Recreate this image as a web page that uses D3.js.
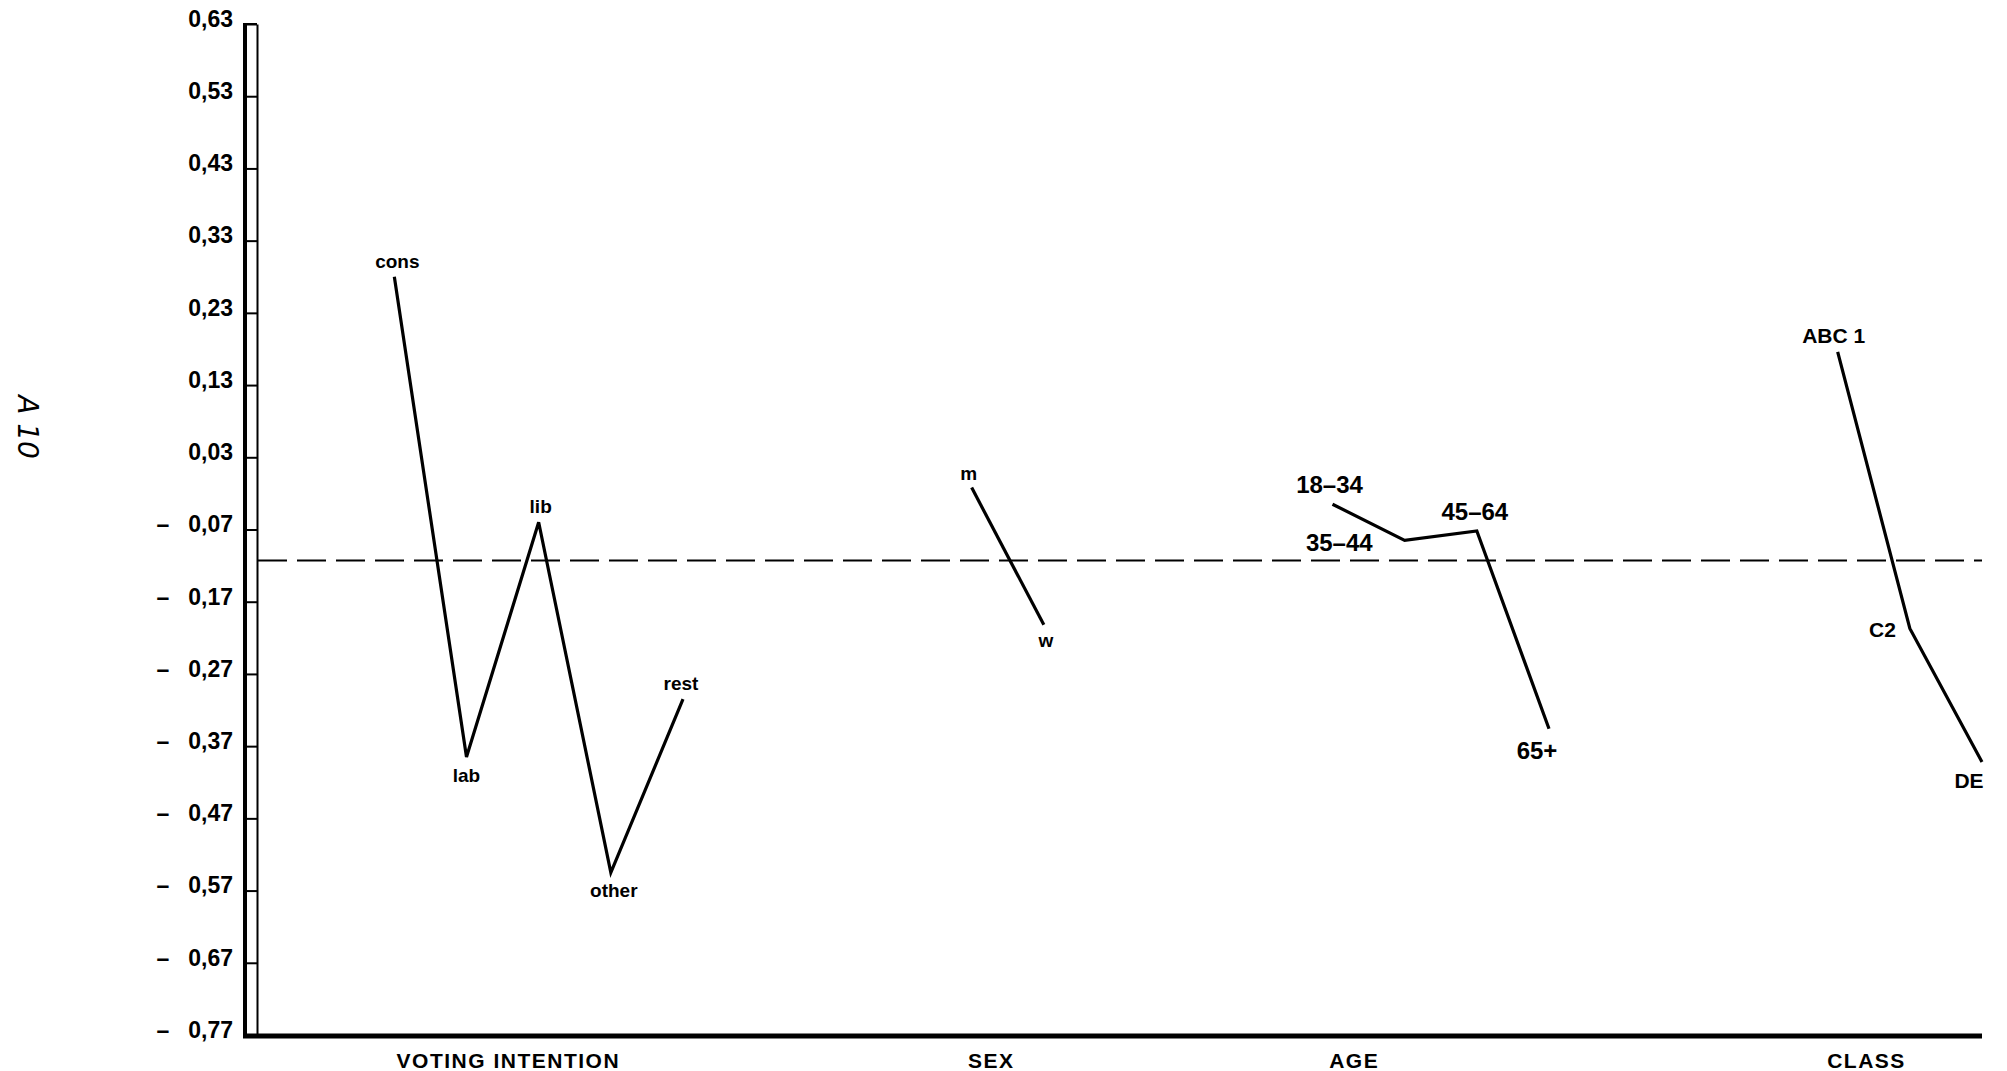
<!DOCTYPE html>
<html>
<head>
<meta charset="utf-8">
<script src="https://cdn.jsdelivr.net/npm/d3@7"></script>
<style>
  html, body { margin: 0; padding: 0; background: #fff; }
  svg { display: block; }
</style>
</head>
<body>
<svg id="chart" width="2007" height="1071"></svg>
<script>
// ---------- data ----------
const groupNames   = ["VOTING INTENTION", "SEX", "AGE", "CLASS"];
const votingLabels = ["cons", "lab", "lib", "other", "rest"];
const votingValues = [0.28, -0.385, -0.06, -0.545, -0.305];
const sexLabels    = ["m", "w"];
const sexValues    = [-0.012, -0.202];
const ageLabels    = ["18–34", "35–44", "45–64", "65+"];
const ageValues    = [-0.035, -0.085, -0.072, -0.346];
const classLabels  = ["ABC 1", "C2", "DE"];
const classValues  = [0.176, -0.207, -0.392];
const referenceValue = -0.113;
const yTickValues  = [0.63, 0.53, 0.43, 0.33, 0.23, 0.13, 0.03, -0.07, -0.17, -0.27, -0.37, -0.47, -0.57, -0.67, -0.77];
const yTickLabels  = ["0,63", "0,53", "0,43", "0,33", "0,23", "0,13", "0,03", "0,07", "0,17", "0,27", "0,37", "0,47", "0,57", "0,67", "0,77"];

// ---------- layout ----------
const svg = d3.select("#chart");
const GAP = 3; // empty slots between groups
const groups = [
  { name: groupNames[0], labels: votingLabels, values: votingValues },
  { name: groupNames[1], labels: sexLabels,    values: sexValues },
  { name: groupNames[2], labels: ageLabels,    values: ageValues },
  { name: groupNames[3], labels: classLabels,  values: classValues }
];
let slot = 0;
groups.forEach(g => {
  g.points = g.labels.map((l, i) => ({ label: l, value: g.values[i], slot: slot + i }));
  g.start = slot;
  slot += g.labels.length + GAP;
});
const lastSlot = slot - GAP - 1;

const x = d3.scaleLinear().domain([-2, lastSlot]).range([250, 1982]);
const y = d3.scaleLinear().domain([-0.77, 0.63]).range([1035, 24]);

// label placement (style / layout only)
const place = {
  "cons":  { dx: 3,   dy: -9,  a: "middle" },
  "lab":   { dx: 0,   dy: 25,  a: "middle" },
  "lib":   { dx: 2,   dy: -9,  a: "middle" },
  "other": { dx: 3,   dy: 24,  a: "middle" },
  "rest":  { dx: -2,  dy: -9,  a: "middle" },
  "m":     { dx: -3,  dy: -8,  a: "middle" },
  "w":     { dx: 2,   dy: 22,  a: "middle" },
  "18–34": { dx: -3,  dy: -11, a: "middle" },
  "35–44": { dx: -32, dy: 11,  a: "end" },
  "45–64": { dx: -2,  dy: -11, a: "middle" },
  "65+":   { dx: -12, dy: 30,  a: "middle" },
  "ABC 1": { dx: -4,  dy: -9,  a: "middle" },
  "C2":    { dx: -14, dy: 9,   a: "end" },
  "DE":    { dx: -13, dy: 26,  a: "middle" }
};
const groupLabelSlot = [1.58, 8.27, 13.3, 20.4];

// ---------- y axis (double rail with dividers) ----------
const rail = svg.append("g").attr("transform", "translate(257,0)")
  .call(d3.axisLeft(y).tickValues(yTickValues).tickSize(14).tickSizeOuter(0).tickFormat(""));
rail.select(".domain").attr("stroke", "#000").attr("stroke-width", 2);
rail.selectAll(".tick line").attr("stroke", "#000").attr("stroke-width", 2);

svg.append("line")
  .attr("x1", 245).attr("x2", 245)
  .attr("y1", y(0.63) - 1).attr("y2", y(-0.77) + 3)
  .attr("stroke", "#000").attr("stroke-width", 4);
svg.append("line")
  .attr("x1", 243).attr("x2", 257)
  .attr("y1", y(0.63)).attr("y2", y(0.63))
  .attr("stroke", "#000").attr("stroke-width", 2);

const labAxis = svg.append("g").attr("transform", "translate(233,0)")
  .call(d3.axisLeft(y).tickValues(yTickValues).tickSize(0).tickPadding(0)
    .tickFormat((d, i) => yTickLabels[i]));
labAxis.select(".domain").remove();
labAxis.selectAll(".tick text")
  .attr("font-family", "Liberation Sans, Arial, sans-serif")
  .attr("font-weight", "bold").attr("font-size", 23)
  .attr("fill", "#000").attr("dy", "0.1em").attr("text-anchor", "end");
labAxis.selectAll(".tick").filter(d => d < 0)
  .append("text")
  .attr("x", -70).attr("dy", "0.1em")
  .attr("text-anchor", "middle")
  .attr("font-family", "Liberation Sans, Arial, sans-serif")
  .attr("font-weight", "bold").attr("font-size", 23).attr("fill", "#000")
  .text("–");

// ---------- x axis ----------
svg.append("line")
  .attr("x1", 243).attr("x2", x(lastSlot))
  .attr("y1", 1036).attr("y2", 1036)
  .attr("stroke", "#000").attr("stroke-width", 5);

svg.selectAll("text.group")
  .data(groups)
  .join("text")
  .attr("class", "group")
  .attr("x", (d, i) => x(groupLabelSlot[i]))
  .attr("y", 1068)
  .attr("text-anchor", "middle")
  .attr("font-family", "Liberation Sans, Arial, sans-serif")
  .attr("font-weight", "bold").attr("font-size", 21)
  .attr("letter-spacing", 1.5)
  .attr("fill", "#000")
  .text(d => d.name);

// ---------- reference dashed line ----------
svg.append("line")
  .attr("x1", 258).attr("x2", x(lastSlot))
  .attr("y1", y(referenceValue)).attr("y2", y(referenceValue))
  .attr("stroke", "#000").attr("stroke-width", 2)
  .attr("stroke-dasharray", "29,10");

// ---------- series lines ----------
const line = d3.line().x(d => x(d.slot)).y(d => y(d.value));
svg.selectAll("path.series")
  .data(groups)
  .join("path")
  .attr("class", "series")
  .attr("d", d => line(d.points))
  .attr("fill", "none")
  .attr("stroke", "#000")
  .attr("stroke-width", 3.2)
  .attr("stroke-linejoin", "miter");

// ---------- point labels ----------
const allPoints = groups.flatMap((g, gi) => g.points.map(p => ({ ...p, gi })));
svg.selectAll("text.pt")
  .data(allPoints)
  .join("text")
  .attr("class", "pt")
  .attr("x", d => x(d.slot) + place[d.label].dx)
  .attr("y", d => y(d.value) + place[d.label].dy)
  .attr("text-anchor", d => place[d.label].a)
  .attr("font-family", d => d.gi === 2 ? "Liberation Sans Narrow, Liberation Sans, sans-serif" : "Liberation Sans, Arial, sans-serif")
  .attr("font-weight", "bold")
  .attr("font-size", d => d.gi < 2 ? 19 : (d.gi === 2 ? 24 : 21))
  .attr("fill", "#000")
  .text(d => d.label);

// ---------- margin note ----------
svg.append("text")
  .attr("transform", "translate(18,427) rotate(90)")
  .attr("text-anchor", "middle")
  .attr("font-family", "DejaVu Sans, sans-serif")
  .attr("font-style", "italic")
  .attr("font-size", 28)
  .attr("fill", "#000")
  .text("A 10");
</script>
</body>
</html>
